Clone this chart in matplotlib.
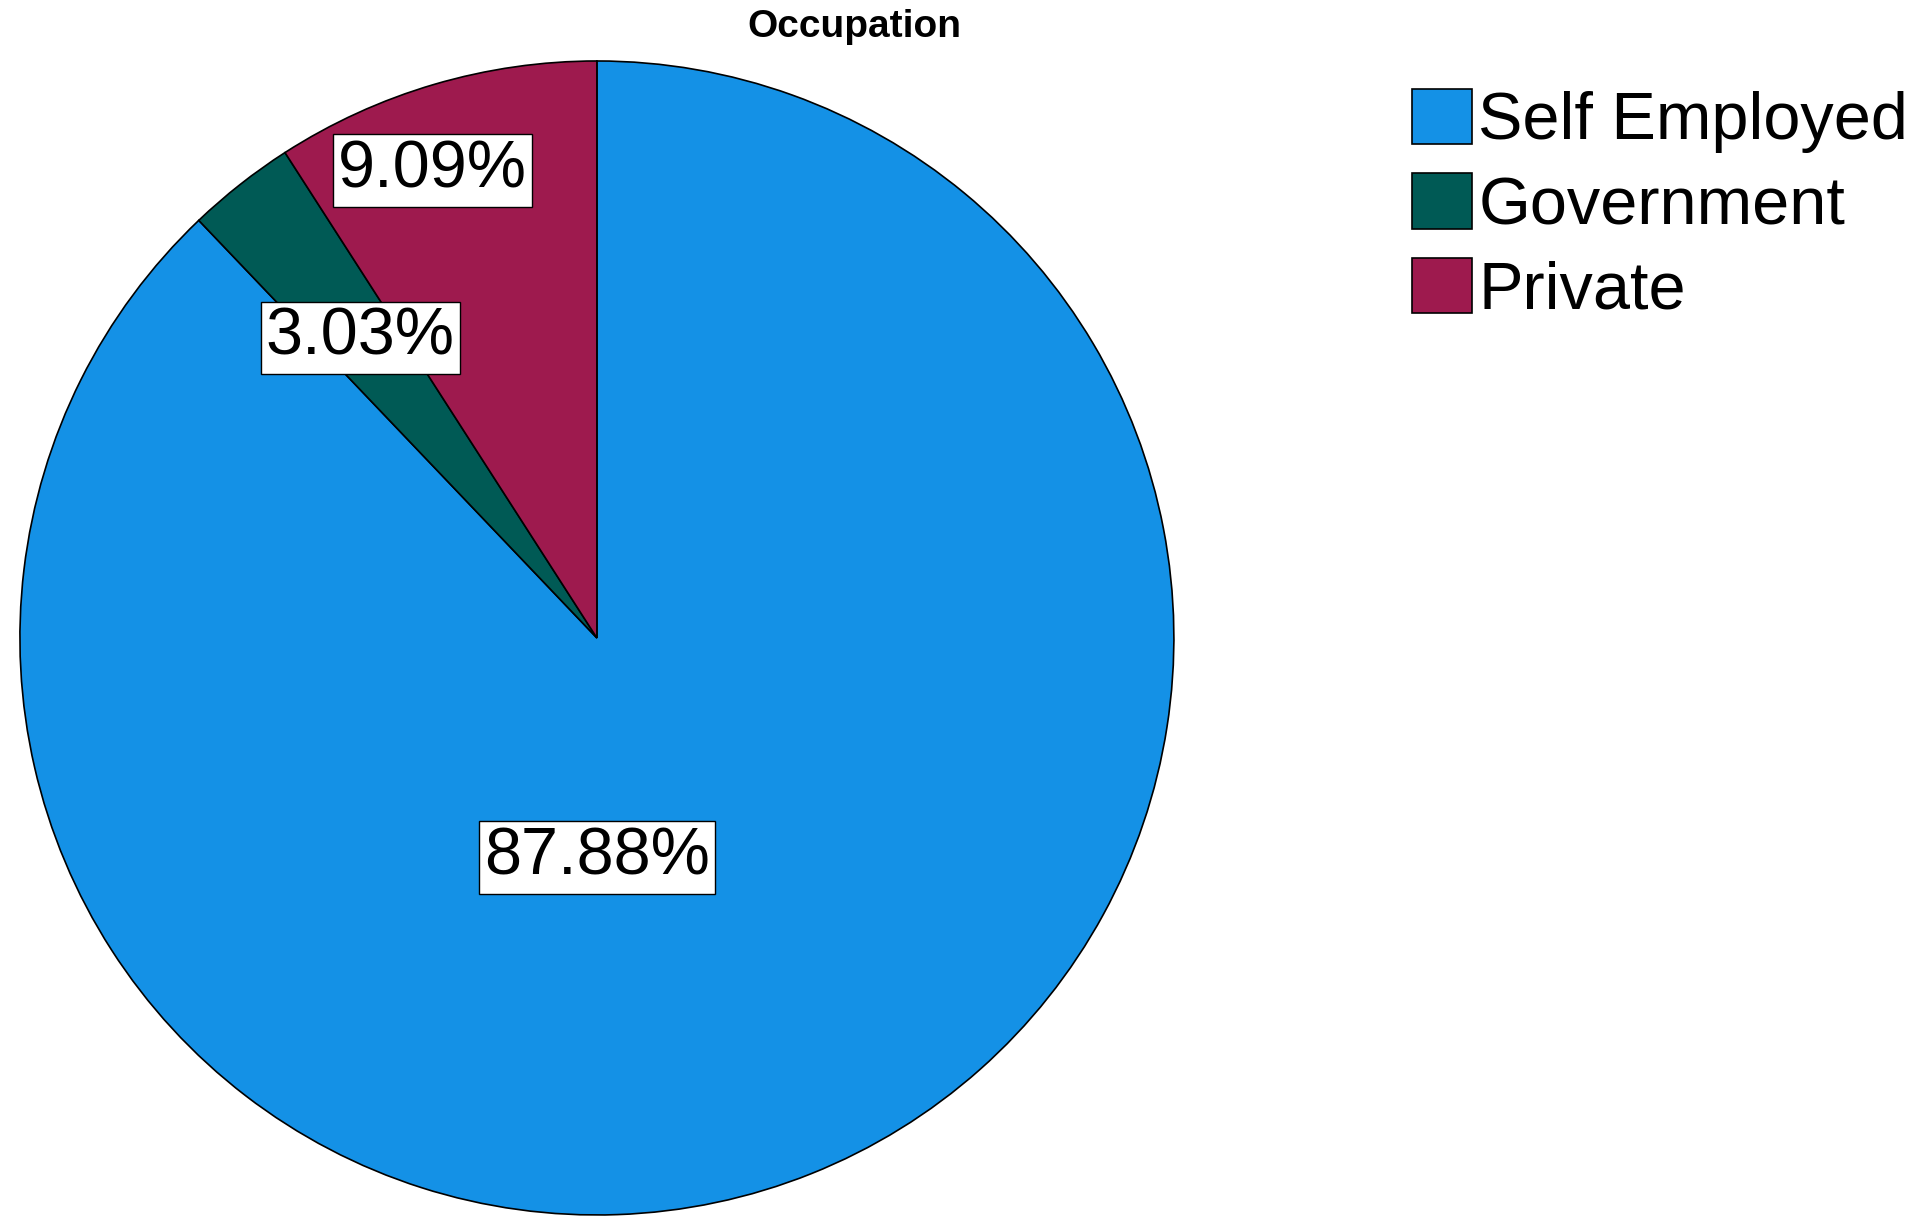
import matplotlib
matplotlib.use("Agg")
import matplotlib.pyplot as plt
import numpy as np

categories = ["Self Employed", "Government", "Private"]
values = [87.88, 3.03, 9.09]
colors = ["#1491E6", "#005A55", "#9E1A4E"]
title = "Occupation"

plt.rcParams['font.family'] = ['Liberation Sans', 'DejaVu Sans']
fig = plt.figure(figsize=(19.15, 12.29), dpi=100)
ax = fig.add_axes([0.0104, 0.0114, 0.6026, 0.939])
wedges, _ = ax.pie(values, colors=colors, startangle=90, counterclock=False,
                   wedgeprops=dict(edgecolor="black", linewidth=1.2), radius=1)
ax.set_xlim(-1, 1); ax.set_ylim(-1, 1); ax.set_aspect('equal')

label_pos = [(0.0, -0.38), (-0.41, 0.52), (-0.285, 0.81)]
for v, (x, y) in zip(values, label_pos):
    ax.text(x, y, f"{v:.2f}%", ha="center", va="center", fontsize=48,
            bbox=dict(boxstyle="square,pad=0.08", fc="white", ec="black", lw=1))

fig.text(854/1915, 1-27/1229, title, ha="center", va="center", fontsize=28, fontweight="bold")
leg = fig.legend(wedges, categories, loc="upper left", bbox_to_anchor=(1385/1915, 1-62/1229),
                 frameon=False, fontsize=48, handlelength=0.9, handleheight=0.9,
                 handletextpad=0.1, labelspacing=0.3, borderaxespad=0)
fig.savefig("out.png", dpi=100)
